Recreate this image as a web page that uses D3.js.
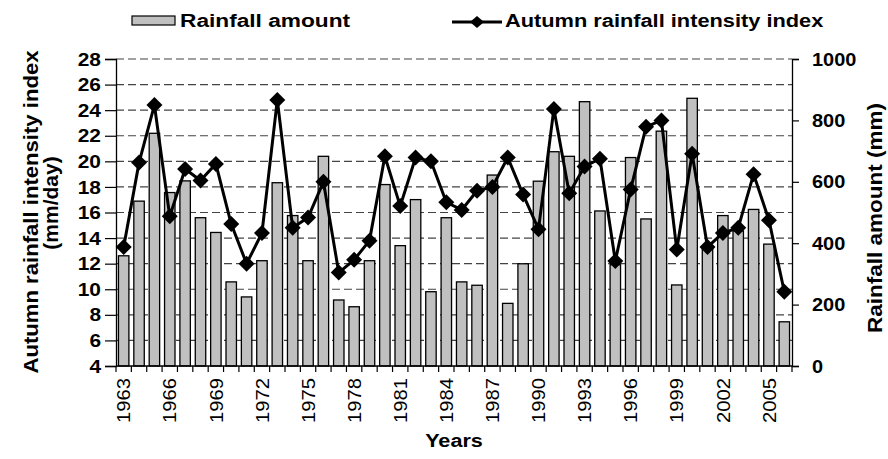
<!DOCTYPE html>
<html>
<head>
<style>
body { margin: 0; background: #fff; }
svg { display: block; }
svg text { font-family: "Liberation Sans", Arial, Helvetica, sans-serif !important; fill: #000; }
</style>
</head>
<body>
<svg id="chart" width="888" height="459"></svg>
<script src="https://cdn.jsdelivr.net/npm/d3@7"></script>
<script>
// categories
const years = [1963, 1964, 1965, 1966, 1967, 1968, 1969, 1970, 1971, 1972,
  1973, 1974, 1975, 1976, 1977, 1978, 1979, 1980, 1981, 1982,
  1983, 1984, 1985, 1986, 1987, 1988, 1989, 1990, 1991, 1992,
  1993, 1994, 1995, 1996, 1997, 1998, 1999, 2000, 2001, 2002,
  2003, 2004, 2005, 2006];
// rainfall amount (mm), right axis
const rainfall = [359, 537, 758, 565, 603, 483, 435, 274, 225, 343,
  597, 490, 343, 683, 215, 193, 343, 591, 392, 542,
  242, 483, 274, 263, 622, 204, 333, 602, 698, 683,
  861, 505, 330, 679, 479, 765, 264, 872, 388, 490,
  440, 510, 397, 144];
// autumn rainfall intensity index (mm/day), left axis
const intensity = [13.3, 19.9, 24.4, 15.7, 19.4, 18.5, 19.8, 15.1, 12.0, 14.4,
  24.8, 14.8, 15.6, 18.4, 11.3, 12.3, 13.8, 20.4, 16.5, 20.3,
  20.0, 16.8, 16.2, 17.7, 18.0, 20.3, 17.4, 14.7, 24.1, 17.5,
  19.6, 20.2, 12.2, 17.8, 22.7, 23.2, 13.1, 20.6, 13.3, 14.4,
  14.8, 19.0, 15.4, 9.8];
const leftTicks = [4, 6, 8, 10, 12, 14, 16, 18, 20, 22, 24, 26, 28];
const rightTicks = [0, 200, 400, 600, 800, 1000];
const yearLabels = [1963, 1966, 1969, 1972, 1975, 1978, 1981, 1984, 1987, 1990, 1993, 1996, 1999, 2002, 2005];

const m = {left: 116, right: 792, top: 59, bottom: 366};
const svg = d3.select('#chart');

const x = d3.scaleBand().domain(years).range([m.left, m.right]).paddingInner(0.32).paddingOuter(0.16);
const yL = d3.scaleLinear().domain([4, 28]).range([m.bottom, m.top]);
const yR = d3.scaleLinear().domain([0, 1000]).range([m.bottom, m.top]);

// widen horizontal text a bit, the source chart is stretched
function stretch(sel, k) {
  sel.each(function () {
    const w = this.getComputedTextLength();
    d3.select(this).attr('textLength', w * k).attr('lengthAdjust', 'spacingAndGlyphs');
  });
}

// grid
svg.append('g').selectAll('line')
  .data(leftTicks.filter(d => d > 4))
  .enter().append('line')
  .attr('x1', m.left).attr('x2', m.right)
  .attr('y1', d => yL(d)).attr('y2', d => yL(d))
  .attr('stroke', '#444').attr('stroke-width', 1.2)
  .attr('stroke-dasharray', '8,4');

// bars
svg.append('g').selectAll('rect')
  .data(years)
  .enter().append('rect')
  .attr('x', d => x(d))
  .attr('width', x.bandwidth())
  .attr('y', (d, i) => yR(rainfall[i]))
  .attr('height', (d, i) => m.bottom - yR(rainfall[i]))
  .attr('fill', '#c0c0c0')
  .attr('stroke', '#000')
  .attr('stroke-width', 1.3);

// line
const cx = d => x(d) + x.bandwidth() / 2;
const line = d3.line().x(d => cx(d)).y((d, i) => yL(intensity[i]));
svg.append('path')
  .datum(years)
  .attr('d', line)
  .attr('fill', 'none')
  .attr('stroke', '#000')
  .attr('stroke-width', 3)
  .attr('stroke-linejoin', 'round');

const diamond = 'M0,-8L8,0L0,8L-8,0Z';
svg.append('g').selectAll('path')
  .data(years)
  .enter().append('path')
  .attr('d', diamond)
  .attr('transform', (d, i) => `translate(${cx(d)},${yL(intensity[i])})`)
  .attr('fill', '#000');

// axes
const axL = svg.append('g').attr('transform', `translate(${m.left},0)`)
  .call(d3.axisLeft(yL).tickValues(leftTicks).tickSize(11).tickPadding(4));
const axR = svg.append('g').attr('transform', `translate(${m.right},0)`)
  .call(d3.axisRight(yR).tickValues(rightTicks).tickFormat(d3.format('d')).tickSize(7).tickPadding(13));
[axL, axR].forEach(a => {
  a.select('.domain').attr('stroke', '#000').attr('stroke-width', 1.3);
  a.selectAll('.tick line').attr('stroke', '#000').attr('stroke-width', 1.2);
  a.selectAll('text').attr('font-size', 19).attr('font-weight', 'bold');
});
stretch(axL.selectAll('text'), 1.1);
stretch(axR.selectAll('text'), 1.05);

// x axis: baseline and ticks between bars
svg.append('line')
  .attr('x1', m.left).attr('x2', m.right)
  .attr('y1', m.bottom).attr('y2', m.bottom)
  .attr('stroke', '#000').attr('stroke-width', 1.3);
svg.append('g').selectAll('line')
  .data(years.concat([2007]))
  .enter().append('line')
  .attr('x1', (d, i) => m.left + i * (m.right - m.left) / years.length)
  .attr('x2', (d, i) => m.left + i * (m.right - m.left) / years.length)
  .attr('y1', m.bottom).attr('y2', m.bottom + 6)
  .attr('stroke', '#000').attr('stroke-width', 1.2);

svg.append('g').selectAll('text')
  .data(yearLabels)
  .enter().append('text')
  .attr('transform', d => `translate(${cx(d)},378) rotate(-90)`)
  .attr('text-anchor', 'end')
  .attr('dy', '0.35em')
  .attr('font-size', 19)
  .attr('textLength', 45)
  .attr('lengthAdjust', 'spacingAndGlyphs')
  .text(d => d);

const xt = svg.append('text')
  .attr('x', (m.left + m.right) / 2).attr('y', 447)
  .attr('text-anchor', 'middle')
  .attr('font-size', 18).attr('font-weight', 'bold')
  .text('Years');
stretch(xt, 1.2);

// axis titles
svg.append('text')
  .attr('transform', 'translate(38,212) rotate(-90)')
  .attr('text-anchor', 'middle')
  .attr('font-size', 21).attr('font-weight', 'bold')
  .attr('textLength', 323).attr('lengthAdjust', 'spacingAndGlyphs')
  .text('Autumn rainfall intensity index');
svg.append('text')
  .attr('transform', 'translate(58,203) rotate(-90)')
  .attr('text-anchor', 'middle')
  .attr('font-size', 21).attr('font-weight', 'bold')
  .text('(mm/day)');
svg.append('text')
  .attr('transform', 'translate(882,218) rotate(-90)')
  .attr('text-anchor', 'middle')
  .attr('font-size', 21).attr('font-weight', 'bold')
  .attr('textLength', 230).attr('lengthAdjust', 'spacingAndGlyphs')
  .text('Rainfall amount (mm)');

// legend
const lg = svg.append('g');
lg.append('rect')
  .attr('x', 132).attr('y', 16).attr('width', 43).attr('height', 9)
  .attr('fill', '#c0c0c0').attr('stroke', '#000').attr('stroke-width', 1.2);
const l1 = lg.append('text').attr('x', 180).attr('y', 27)
  .attr('font-size', 18).attr('font-weight', 'bold').text('Rainfall amount');
stretch(l1, 1.26);
lg.append('line').attr('x1', 452).attr('x2', 502).attr('y1', 22).attr('y2', 22)
  .attr('stroke', '#000').attr('stroke-width', 3);
lg.append('path').attr('d', 'M0,-6L7,0L0,6L-7,0Z')
  .attr('transform', 'translate(477,22)').attr('fill', '#000');
const l2 = lg.append('text').attr('x', 505).attr('y', 27)
  .attr('font-size', 18).attr('font-weight', 'bold').text('Autumn rainfall intensity index');
stretch(l2, 1.21);
</script>
</body>
</html>
